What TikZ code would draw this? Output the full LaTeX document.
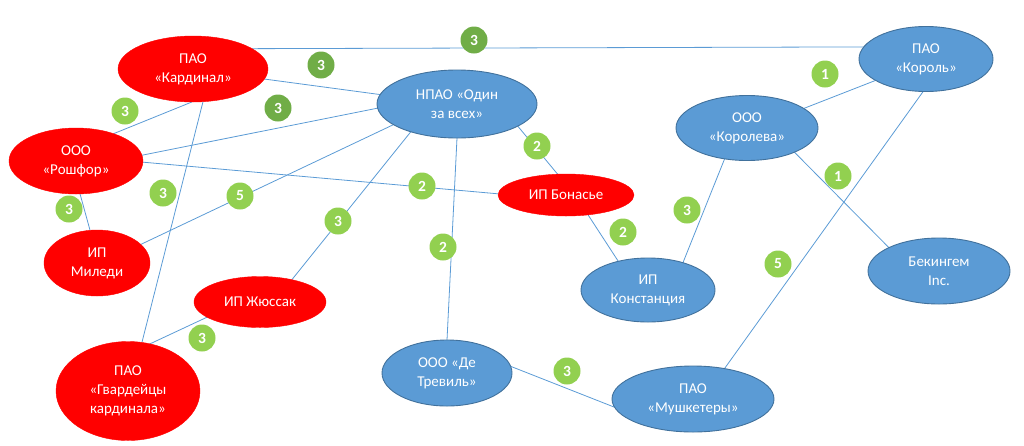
\documentclass[tikz,border=0pt]{standalone}
\usepackage{fontspec}
\setmainfont{Carlito}
\usetikzlibrary{shapes.geometric,backgrounds}
\definecolor{nred}{HTML}{FF0000}
\definecolor{nblue}{HTML}{5B9BD5}
\definecolor{nblueedge}{HTML}{41719C}
\definecolor{glight}{HTML}{92D050}
\definecolor{gdark}{HTML}{70AD47}
\definecolor{linkc}{HTML}{5B9BD5}
\tikzset{
  ent/.style={ellipse, inner sep=0pt, outer sep=0pt, text=white, align=center,
    font=\fontsize{15}{19}\selectfont},
  redent/.style={ent, fill=nred, draw=nred},
  blueent/.style={ent, fill=nblue, draw=nblueedge, line width=0.9pt},
  badge/.style={circle, minimum size=27pt, inner sep=0pt, fill=glight, text=white,
    font=\fontsize{15.5}{15.5}\selectfont\bfseries},
  badgedark/.style={badge, fill=gdark},
  link/.style={draw=linkc, line width=0.8pt}
}
\begin{document}
\begin{tikzpicture}[x=1pt,y=-1pt]
\useasboundingbox (0,0) rectangle (1024,445);
% entities
\node[redent, minimum width=150pt, minimum height=66pt] (kard) at (193,69) {ПАО\\«Кардинал»};
\node[redent, minimum width=134pt, minimum height=66pt] (rosh) at (76,161) {ООО\\«Рошфор»};
\node[redent, minimum width=106pt, minimum height=66pt] (miledi) at (97,263) {ИП\\Миледи};
\node[redent, minimum width=144pt, minimum height=99pt] (gvard) at (128,391) {ПАО\\«Гвардейцы\\кардинала»};
\node[redent, minimum width=132pt, minimum height=51pt] (jussak) at (260,302) {ИП Жюссак};
\node[blueent, minimum width=160pt, minimum height=68pt] (npao) at (457,104) {НПАО «Один\\за всех»};
\node[redent, minimum width=136pt, minimum height=42pt] (bonas) at (566,195) {ИП Бонасье};
\node[blueent, minimum width=134pt, minimum height=64pt] (const) at (648,290) {ИП\\Констанция};
\node[blueent, minimum width=130pt, minimum height=66pt] (trev) at (447,373) {ООО «Де\\Тревиль»};
\node[blueent, minimum width=162pt, minimum height=66pt] (mush) at (693,399) {ПАО\\«Мушкетеры»};
\node[blueent, minimum width=142pt, minimum height=65pt] (korolv) at (747,128) {ООО\\«Королева»};
\node[blueent, minimum width=134pt, minimum height=65pt] (korol) at (926,59) {ПАО\\«Король»};
\node[blueent, minimum width=142pt, minimum height=66pt] (beking) at (939,271) {Бекингем\\Inc.};
% badges
\node[badgedark] (b1) at (474,40) {3};
\node[badgedark] (b2) at (321,65) {3};
\node[badgedark] (b3) at (278,108) {3};
\node[badge] (b4) at (125,111) {3};
\node[badge] (b5) at (422,186) {2};
\node[badge] (b6) at (69,209) {3};
\node[badge] (b7) at (163,193) {3};
\node[badge] (b8) at (240,196) {5};
\node[badge] (b9) at (338,221) {3};
\node[badge] (b10) at (202,338) {3};
\node[badge] (b11) at (537,146) {2};
\node[badge] (b12) at (443,247) {2};
\node[badge] (b13) at (623,232) {2};
\node[badge] (b14) at (687,210) {3};
\node[badge] (b15) at (825,74) {1};
\node[badge] (b16) at (838,176) {1};
\node[badge] (b17) at (778,264) {5};
\node[badge] (b18) at (567,371) {3};
% links
\begin{scope}[on background layer]
\draw[link] (kard.19) -- (korol.169);
\draw[link] (kard.-8.6) -- (npao.173.5);
\draw[link] (rosh.5.2) -- (npao.183);
\draw[link] (rosh.36.4) -- (kard.268);
\draw[link] (rosh.-1.7) -- (bonas.179.2);
\draw[link] (rosh.-83) -- (miledi.102);
\draw[link] (kard.-73) -- (gvard.74);
\draw[link] (miledi.23) -- (npao.198.7);
\draw[link] (jussak.35.4) -- (npao.211.6);
\draw[link] (gvard.65) -- (jussak.196);
\draw[link] (npao.-20.6) -- (bonas.112.8);
\draw[link] (npao.270) -- (trev.90);
\draw[link] (bonas.-42.5) -- (const.136.8);
\draw[link] (korolv.234) -- (const.38);
\draw[link] (korolv.19.9) -- (korol.203.3);
\draw[link] (korolv.-27) -- (beking.155.3);
\draw[link] (korol.265) -- (mush.44.2);
\draw[link] (trev.6.1) -- (mush.186.4);
\end{scope}
\end{tikzpicture}
\end{document}
